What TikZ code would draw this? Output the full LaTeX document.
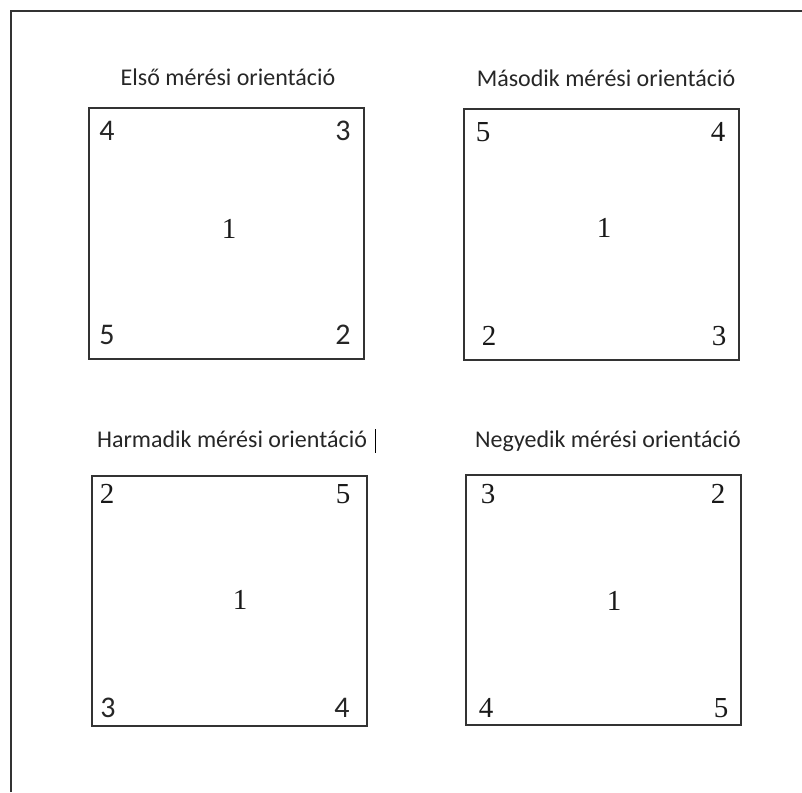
\documentclass[tikz,border=0pt]{standalone}
\usepackage{fontspec}
\setmainfont{Liberation Serif}
\newfontfamily\calfont{Carlito}
\begin{document}
\begin{tikzpicture}[x=1pt,y=-1pt,
  frame/.style={draw=black!80,line width=1.5pt},
  title/.style={font=\calfont\fontsize{24}{26}\selectfont,text=black!85,anchor=base,inner sep=0pt},
  sernum/.style={font=\fontsize{29}{30}\selectfont,text=black!90,inner sep=0pt},
  sansnum/.style={font=\calfont\fontsize{30}{32}\selectfont,text=black!85,inner sep=0pt}]
\useasboundingbox (0,0) rectangle (802,792);
% outer page frame
\coordinate (pb) at (11,792);
\coordinate (pc) at (11,11);
\coordinate (pr) at (802,11);
\draw[frame] (pb) -- (pc) -- (pr);
% boxes
\node[frame,minimum width=275pt,minimum height=251pt,anchor=north west,inner sep=0pt] (b1) at (88,107) {};
\node[frame,minimum width=275pt,minimum height=251pt,anchor=north west,inner sep=0pt] (b2) at (463,108) {};
\node[frame,minimum width=275pt,minimum height=250pt,anchor=north west,inner sep=0pt] (b3) at (91,475) {};
\node[frame,minimum width=275pt,minimum height=250pt,anchor=north west,inner sep=0pt] (b4) at (465,474) {};
% titles
\node[title] (t1) at (228,85) {Első mérési orientáció};
\node[title] (t2) at (606,86) {Második mérési orientáció};
\node[title] (t3) at (232,447) {Harmadik mérési orientáció};
\node[title] (t4) at (608,447) {Negyedik mérési orientáció};
% text cursor
\coordinate (cu1) at (375,429);
\coordinate (cu2) at (375,453);
\draw[black,line width=1pt] (cu1) -- (cu2);
% box 1
\node[sansnum] (n14) at (107,131) {4};
\node[sansnum] (n13) at (343,131) {3};
\node[sansnum] (n15) at (107,335) {5};
\node[sansnum] (n12) at (343,335) {2};
\node[sernum] (n11) at (229,229) {1};
% box 2
\node[sernum] (n25) at (483,132) {5};
\node[sernum] (n24) at (718,132) {4};
\node[sernum] (n22) at (489,336) {2};
\node[sernum] (n23) at (719,336) {3};
\node[sernum] (n21) at (604,228) {1};
% box 3
\node[sernum] (n32) at (107,494) {2};
\node[sernum] (n35) at (343,494) {5};
\node[sansnum] (n33) at (108,708) {3};
\node[sansnum] (n34) at (342,708) {4};
\node[sernum] (n31) at (240,600) {1};
% box 4
\node[sernum] (n43) at (488,494) {3};
\node[sernum] (n42) at (718,494) {2};
\node[sernum] (n44) at (486,708) {4};
\node[sernum] (n45) at (721,708) {5};
\node[sernum] (n41) at (614,601) {1};
\end{tikzpicture}
\end{document}
